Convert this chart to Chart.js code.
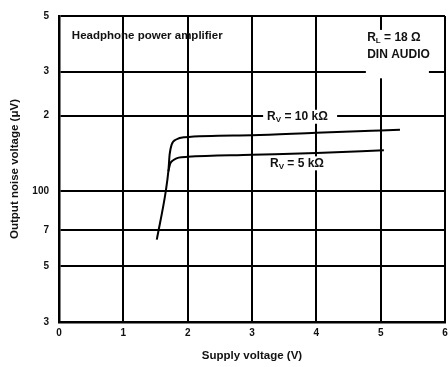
<!DOCTYPE html>
<html>
<head>
<meta charset="utf-8">
<script src="https://cdn.jsdelivr.net/npm/chart.js@4.4.1/dist/chart.umd.min.js"></script>
<style>
  html, body { margin: 0; padding: 0; background: #fff; }
  #wrap { width: 448px; height: 367px; }
</style>
</head>
<body>
<div id="wrap"><canvas id="noiseChart" width="448" height="367"></canvas></div>
<script>
  // ---- data ----
  const xTicks = [0, 1, 2, 3, 4, 5, 6];
  const yTickValues = [30, 50, 70, 100, 200, 300, 500];
  const yTickLabels = ['3', '5', '7', '100', '2', '3', '5'];

  // Rv = 10 kOhm (upper curve)
  const rv10Volts = [1.52, 1.66, 1.70, 1.72, 1.75, 1.83, 1.95, 3, 4, 5, 5.3];
  const rv10Noise = [64, 100, 120, 140, 153, 161, 164, 167, 171, 174.5, 175.5];
  // Rv = 5 kOhm (lower curve, branches off the steep part)
  const rv5Volts = [1.70, 1.73, 1.78, 1.86, 2, 3, 4, 5.05];
  const rv5Noise = [120, 129, 133, 136, 137, 139.5, 142, 145.4];

  const FONT = '"Liberation Sans", Arial, sans-serif';
  const toPoints = (xs, ys) => xs.map((v, i) => ({ x: v, y: ys[i] }));

  // text labels drawn on top of the grid, with a white patch behind them
  const labelPlugin = {
    id: 'labels',
    afterDraw(chart) {
      const { ctx, scales: { x, y } } = chart;
      ctx.save();
      ctx.fillStyle = '#111';
      ctx.textBaseline = 'middle';

      function rLabel(sub, rest, px, py) {
        ctx.font = 'bold 12px ' + FONT;
        ctx.fillText('R', px, py);
        let w = ctx.measureText('R').width;
        ctx.font = 'bold 8px ' + FONT;
        ctx.fillText(sub, px + w, py + 3);
        w += ctx.measureText(sub).width;
        ctx.font = 'bold 12px ' + FONT;
        ctx.fillText(rest, px + w, py);
        return w + ctx.measureText(rest).width;
      }
      function patch(x0, y0, x1, y1) {
        ctx.fillStyle = '#fff';
        ctx.fillRect(x0, y0, x1 - x0, y1 - y0);
        ctx.fillStyle = '#111';
      }

      ctx.font = 'bold 11.5px ' + FONT;
      ctx.fillText('Headphone power amplifier', x.getPixelForValue(0.2), y.getPixelForValue(417));

      // RL box top right
      patch(x.getPixelForValue(4.77), y.getPixelForValue(440), x.getPixelForValue(5.75), y.getPixelForValue(282));
      rLabel('L', ' = 18 \u03A9', x.getPixelForValue(4.79), y.getPixelForValue(409));
      ctx.font = 'bold 12px ' + FONT;
      ctx.fillText('DIN AUDIO', x.getPixelForValue(4.79), y.getPixelForValue(351));

      // curve labels
      let lx = x.getPixelForValue(3.235), ly = y.getPixelForValue(198);
      patch(lx - 4, ly - 7, lx + 70, ly + 7);
      rLabel('V', ' = 10 k\u03A9', lx, ly);

      lx = x.getPixelForValue(3.28); ly = y.getPixelForValue(129);
      patch(lx - 3, ly - 7, lx + 58, ly + 7);
      rLabel('V', ' = 5 k\u03A9', lx, ly);

      ctx.restore();
    }
  };

  const ctx = document.getElementById('noiseChart').getContext('2d');
  new Chart(ctx, {
    type: 'line',
    data: {
      datasets: [
        {
          label: 'Rv = 10 kOhm',
          data: toPoints(rv10Volts, rv10Noise),
          borderColor: '#000',
          borderWidth: 2,
          pointRadius: 0,
          cubicInterpolationMode: 'monotone'
        },
        {
          label: 'Rv = 5 kOhm',
          data: toPoints(rv5Volts, rv5Noise),
          borderColor: '#000',
          borderWidth: 2,
          pointRadius: 0,
          cubicInterpolationMode: 'monotone'
        }
      ]
    },
    options: {
      responsive: false,
      animation: false,
      layout: { padding: { top: 13, right: 3, left: 0, bottom: 0 } },
      plugins: { legend: { display: false }, tooltip: { enabled: false } },
      scales: {
        x: {
          type: 'linear',
          min: xTicks[0],
          max: xTicks[xTicks.length - 1],
          afterBuildTicks: s => { s.ticks = xTicks.map(v => ({ value: v })); },
          afterFit: s => { s.height = 45; s.paddingLeft = 0; s.paddingRight = 0; },
          grid: { color: '#000', lineWidth: 2, drawTicks: false },
          border: { color: '#000', width: 2.5 },
          ticks: { color: '#111', padding: 5, font: { family: FONT, size: 10, weight: 'bold' } },
          title: {
            display: true,
            text: 'Supply voltage (V)',
            color: '#111',
            padding: { top: 0, bottom: 4 },
            font: { family: FONT, size: 11.5, weight: 'bold' }
          }
        },
        y: {
          type: 'logarithmic',
          min: 30,
          max: 500,
          afterBuildTicks: s => { s.ticks = yTickValues.map(v => ({ value: v })); },
          afterFit: s => { s.width = 59; },
          grid: { color: '#000', lineWidth: 2, drawTicks: false },
          border: { color: '#000', width: 2.5 },
          ticks: {
            color: '#111',
            padding: 10,
            autoSkip: false,
            font: { family: FONT, size: 10, weight: 'bold' },
            callback: v => yTickLabels[yTickValues.indexOf(v)]
          },
          title: {
            display: true,
            text: 'Output noise voltage (\u03BCV)',
            color: '#111',
            padding: { top: 8, bottom: 0 },
            font: { family: FONT, size: 11.5, weight: 'bold' }
          }
        }
      }
    },
    plugins: [labelPlugin]
  });
</script>
</body>
</html>
